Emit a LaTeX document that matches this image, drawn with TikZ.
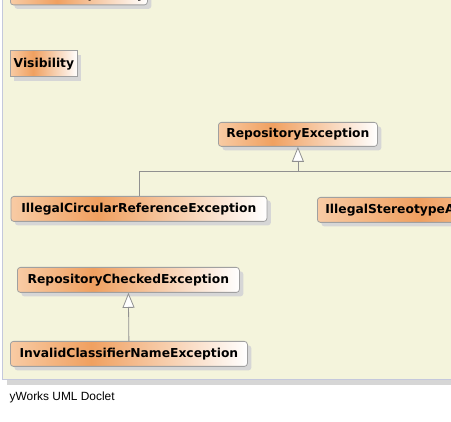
\documentclass[tikz,border=0pt]{standalone}
\usepackage{fontspec}
\setmainfont{DejaVu Sans}
\newfontfamily\footfont{Liberation Sans}
\usetikzlibrary{shadows,arrows.meta}
\definecolor{panel}{HTML}{F4F4DC}
\definecolor{pborder}{HTML}{C4C8DC}
\definecolor{nborder}{HTML}{A0A0A0}
\definecolor{shadowc}{HTML}{D6D6D6}
\definecolor{gradL}{HTML}{F8CBA4}
\definecolor{gradM}{HTML}{F0A060}
\definecolor{conn}{HTML}{909090}
\pgfdeclarehorizontalshading{umlgrad}{100bp}{color(0bp)=(gradL); color(25bp)=(gradL); color(42bp)=(gradM); color(75bp)=(white); color(100bp)=(white)}
\tikzset{
  cls/.style={draw=nborder, line width=0.8pt, rounded corners=3pt, shading=umlgrad,
    font=\bfseries\fontsize{12.3}{14}\selectfont, inner sep=0pt, anchor=north west,
    general shadow={fill=shadowc, shadow xshift=4pt, shadow yshift=-4pt}},
  sq/.style={rounded corners=0pt},
  gen/.style={draw=conn, line width=0.8pt, -{Triangle[length=15pt,width=12pt,fill=white]}},
  link/.style={draw=conn, line width=0.8pt}
}
\begin{document}
\begin{tikzpicture}[x=1pt,y=-1pt]
\useasboundingbox (0,0) rectangle (451,422);
\clip (0,0) rectangle (451,422);
% panel
\fill[shadowc] (7,379.5) rectangle (460,385);
\fill[panel] (2.5,-10) rectangle (460,379.5);
\draw[pborder, line width=0.8pt] (2.5,-10) -- (2.5,379.5) -- (460,379.5);
% nodes
\node[cls, minimum width=137pt, minimum height=24pt] (top) at (10,-19.5) {\raisebox{-2pt}[\height][\depth]{ElementRepository}};
\node[cls, sq, minimum width=67pt, minimum height=26pt] (vis) at (10,50.5) {Visibility};
\node[cls, minimum width=159pt, minimum height=24pt] (re) at (218,122) {RepositoryException};
\node[cls, minimum width=256pt, minimum height=25pt] (ic) at (10.5,196) {IllegalCircularReferenceException};
\node[cls, minimum width=300pt, minimum height=25pt, text width=284pt, align=left] (isa) at (317,197) {IllegalStereotypeAssociationException};
\node[cls, minimum width=222pt, minimum height=25pt] (rc) at (17,267) {RepositoryCheckedException};
\node[cls, minimum width=237pt, minimum height=25pt] (inv) at (10,341) {InvalidClassifierNameException};
% connectors
\draw[link] (isa.north) |- (re.south |- 0,171);
\draw[gen] (ic.north) |- (re.south |- 0,171) -- (re.south);
\draw[gen] (inv.north) -- (rc.south);
% footer
\node[font=\footfont\fontsize{11.9}{14}\selectfont, anchor=base west, inner sep=0pt] (foot) at (9.5,401) {yWorks UML Doclet};
\end{tikzpicture}
\end{document}
